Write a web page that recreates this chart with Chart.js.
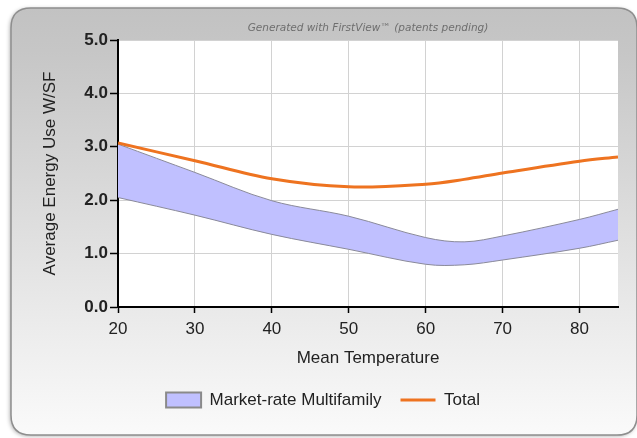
<!DOCTYPE html>
<html>
<head>
<meta charset="utf-8">
<script src="https://cdn.jsdelivr.net/npm/chart.js@4.4.0/dist/chart.umd.min.js"></script>
<style>
  html, body { margin: 0; padding: 0; background: #fff; }
  #wrap { width: 637px; height: 438px; }
</style>
</head>
<body>
<div id="wrap"><canvas id="chart1" width="637" height="438"></canvas></div>
<script>
var temps = [20, 30, 40, 50, 60, 65, 70, 80, 85]
var totalValues = [3.07, 2.74, 2.40, 2.25, 2.30, 2.39, 2.51, 2.73, 2.81]
var bandUpper = [3.05, 2.52, 1.99, 1.70, 1.30, 1.22, 1.33, 1.64, 1.83]
var bandLower = [2.05, 1.72, 1.36, 1.08, 0.80, 0.79, 0.88, 1.10, 1.25]

var xTicks = [20, 30, 40, 50, 60, 70, 80]
var yTicks = [0, 1, 2, 3, 4, 5]

var orange = '#ee7320'
var lavender = '#c0c0ff'
var bandEdge = '#8a8a9a'
var fontName = '"Liberation Sans", Arial, sans-serif'

function toPoints(xs, ys) {
    var pts = []
    for (var i = 0; i < xs.length; i++) {
        pts.push({x: xs[i], y: ys[i]})
    }
    return pts
}

// rounded grey panel, white plot area and the "generated with" caption
var panelPlugin = {
    id: 'panel',
    beforeDraw: function(chart) {
        var ctx = chart.ctx
        var a = chart.chartArea
        ctx.save()
        ctx.fillStyle = '#fff'
        ctx.fillRect(0, 0, chart.width, chart.height)

        var x0 = 11, y0 = 8, x1 = 637, y1 = 435, r = 20
        ctx.beginPath()
        ctx.moveTo(x0 + r, y0)
        ctx.lineTo(x1 - r, y0)
        ctx.quadraticCurveTo(x1, y0, x1, y0 + r)
        ctx.lineTo(x1, y1 - r)
        ctx.quadraticCurveTo(x1, y1, x1 - r, y1)
        ctx.lineTo(x0 + r, y1)
        ctx.quadraticCurveTo(x0, y1, x0, y1 - r)
        ctx.lineTo(x0, y0 + r)
        ctx.quadraticCurveTo(x0, y0, x0 + r, y0)
        ctx.closePath()
        var g = ctx.createLinearGradient(0, y0, 0, y1)
        g.addColorStop(0, '#c2c2c2')
        g.addColorStop(0.1, '#c6c6c6')
        g.addColorStop(0.75, '#ececec')
        g.addColorStop(1, '#fafafa')
        ctx.shadowColor = 'rgba(0,0,0,0.35)'
        ctx.shadowBlur = 4
        ctx.shadowOffsetX = -1
        ctx.shadowOffsetY = 1
        ctx.fillStyle = g
        ctx.fill()
        ctx.shadowColor = 'transparent'
        ctx.strokeStyle = '#8e8e8e'
        ctx.lineWidth = 1.5
        ctx.stroke()

        ctx.fillStyle = '#fff'
        ctx.fillRect(a.left, a.top, a.right - a.left, a.bottom - a.top)

        ctx.font = 'italic 10.5px "DejaVu Sans", sans-serif'
        ctx.fillStyle = '#6e6e6e'
        ctx.textAlign = 'center'
        ctx.textBaseline = 'middle'
        ctx.fillText('Generated with FirstView\u2122 (patents pending)', (a.left + a.right) / 2, 28)
        ctx.restore()
    }
}

window.onload = function() {
    new Chart(document.getElementById('chart1'), {
        type: 'line',
        data: {
            datasets: [{
                label: 'Total',
                data: toPoints(temps, totalValues),
                borderColor: orange,
                backgroundColor: orange,
                borderWidth: 3,
                pointRadius: 0,
                pointStyle: 'line',
                tension: 0.35,
                fill: false
            }, {
                label: 'lower',
                data: toPoints(temps, bandLower),
                borderColor: bandEdge,
                borderWidth: 1,
                pointRadius: 0,
                tension: 0.35,
                fill: false
            }, {
                label: 'Market-rate Multifamily',
                data: toPoints(temps, bandUpper),
                borderColor: bandEdge,
                backgroundColor: lavender,
                borderWidth: 1,
                pointRadius: 0,
                pointStyle: 'rect',
                tension: 0.35,
                fill: 1
            }]
        },
        options: {
            responsive: false,
            animation: false,
            layout: {
                padding: {left: 28, right: 19, top: 40, bottom: 19.5}
            },
            plugins: {
                tooltip: {enabled: false},
                legend: {
                    position: 'bottom',
                    labels: {
                        usePointStyle: true,
                        pointStyleWidth: 35,
                        boxHeight: 15,
                        padding: 19,
                        color: '#222',
                        font: {family: fontName, size: 17},
                        generateLabels: function(chart) {
                            var items = Chart.defaults.plugins.legend.labels.generateLabels(chart)
                            var out = []
                            for (var i = 0; i < items.length; i++) {
                                if (items[i].datasetIndex == 1) continue
                                if (items[i].datasetIndex == 2) {
                                    items[i].lineWidth = 2
                                    items[i].strokeStyle = '#8a8a8a'
                                }
                                out.push(items[i])
                            }
                            out.reverse()
                            return out
                        }
                    }
                }
            },
            scales: {
                x: {
                    type: 'linear',
                    min: 20,
                    max: 85,
                    afterBuildTicks: function(scale) {
                        scale.ticks = xTicks.map(function(v) { return {value: v} })
                    },
                    afterFit: function(scale) { scale.height = 65.5 },
                    ticks: {
                        padding: 6,
                        color: '#222',
                        font: {family: fontName, size: 17},
                        maxRotation: 0
                    },
                    grid: {
                        color: '#d2d2d2',
                        tickColor: '#000',
                        tickLength: 6,
                        tickWidth: 1.5
                    },
                    border: {color: '#000', width: 2},
                    title: {
                        display: true,
                        text: 'Mean Temperature',
                        color: '#222',
                        font: {family: fontName, size: 17},
                        padding: {top: 0, bottom: 4}
                    }
                },
                y: {
                    min: 0,
                    max: 5,
                    afterBuildTicks: function(scale) {
                        scale.ticks = yTicks.map(function(v) { return {value: v} })
                    },
                    afterFit: function(scale) { scale.width = 90 },
                    ticks: {
                        padding: 2,
                        color: '#222',
                        font: {family: fontName, size: 17, weight: 'bold'},
                        callback: function(v) { return Number(v).toFixed(1) }
                    },
                    grid: {
                        color: '#d2d2d2',
                        tickColor: '#000',
                        tickLength: 8,
                        tickWidth: 1.5
                    },
                    border: {color: '#000', width: 2},
                    title: {
                        display: true,
                        text: 'Average Energy Use W/SF',
                        color: '#222',
                        font: {family: fontName, size: 17},
                        padding: {top: 12, bottom: 0}
                    }
                }
            }
        },
        plugins: [panelPlugin]
    });
};
</script>
</body>
</html>
